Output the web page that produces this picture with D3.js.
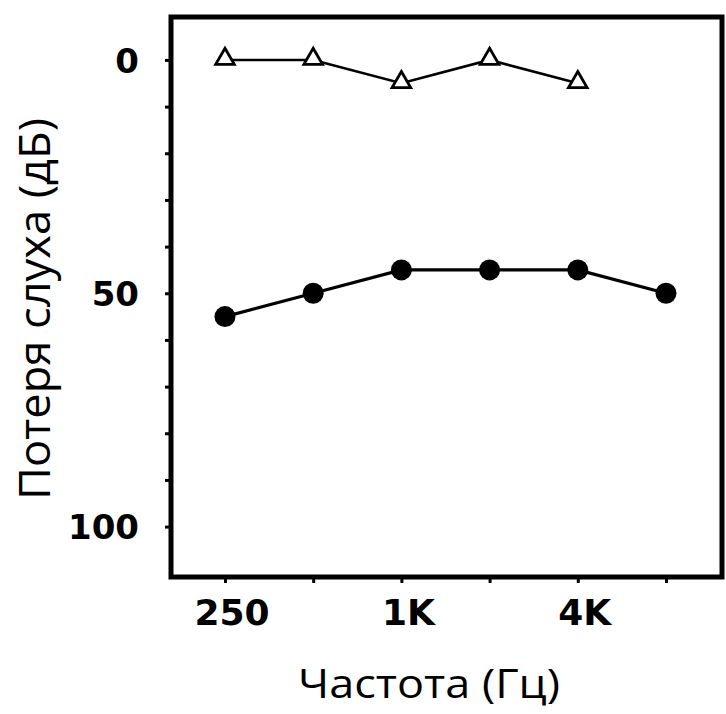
<!DOCTYPE html>
<html>
<head>
<meta charset="utf-8">
<script src="https://cdn.jsdelivr.net/npm/d3@7"></script>
<style>
  html, body { margin: 0; padding: 0; background: #fff; }
  svg { display: block; }
</style>
</head>
<body>
<div id="chart"></div>
<script>
// Audiogram: hearing loss (dB) by frequency (Hz)
const frequencies = [250, 500, 1000, 2000, 4000, 8000];
const tickLabels = ["250", "", "1K", "", "4K", ""];
const yTicks = [0, 10, 20, 30, 40, 50, 60, 70, 80, 90, 100];
const yTickLabels = { 0: "0", 50: "50", 100: "100" };

// Open triangles (250 Hz – 4 kHz)
const triFreqs = [250, 500, 1000, 2000, 4000];
const triValues = [0, 0, 5, 0, 5];

// Filled circles (250 Hz – 8 kHz)
const dotFreqs = [250, 500, 1000, 2000, 4000, 8000];
const dotValues = [55, 50, 45, 45, 45, 50];

const W = 726, H = 714;
const frame = { left: 171, top: 17, right: 722, bottom: 577 };

const svg = d3.select("#chart").append("svg")
  .attr("width", W).attr("height", H);

// log2 frequency axis with a little padding past 250 Hz and 8 kHz
const x = d3.scaleLog().base(2)
  .domain([250 * Math.pow(2, -0.612), 250 * Math.pow(2, 5.635)])
  .range([frame.left, frame.right]);

// hearing loss grows downward
const y = d3.scaleLinear()
  .domain([-9.2, 110.8])
  .range([frame.top, frame.bottom]);

const tickFont = "'DejaVu Sans', sans-serif";

// Left axis: ticks every 10 dB, labels at 0 / 50 / 100
const yAxis = d3.axisLeft(y)
  .tickValues(yTicks)
  .tickSize(6)
  .tickPadding(26)
  .tickFormat(d => yTickLabels[d] || "");
const gy = svg.append("g")
  .attr("transform", `translate(${frame.left},0)`)
  .call(yAxis);
gy.select(".domain").remove();
gy.selectAll(".tick line").attr("stroke", "#000").attr("stroke-width", 3);
gy.selectAll(".tick text")
  .attr("font-family", tickFont)
  .attr("font-weight", "bold")
  .attr("font-size", 34)
  .attr("fill", "#000")
  .attr("dy", "0.36em");

// Bottom axis: one tick per octave
const xAxis = d3.axisBottom(x)
  .tickValues(frequencies)
  .tickSize(6)
  .tickPadding(16)
  .tickFormat((d, i) => tickLabels[i]);
const gx = svg.append("g")
  .attr("transform", `translate(0,${frame.bottom})`)
  .call(xAxis);
gx.select(".domain").remove();
gx.selectAll(".tick line").attr("stroke", "#000").attr("stroke-width", 3);
gx.selectAll(".tick text")
  .attr("font-family", tickFont)
  .attr("font-weight", "bold")
  .attr("font-size", 36)
  .attr("fill", "#000")
  .attr("dx", "0.18em");

// Plot frame
svg.append("rect")
  .attr("x", frame.left).attr("y", frame.top)
  .attr("width", frame.right - frame.left)
  .attr("height", frame.bottom - frame.top)
  .attr("fill", "none")
  .attr("stroke", "#000")
  .attr("stroke-width", 5);

// Triangle series
const triData = triFreqs.map((f, i) => ({ f, v: triValues[i] }));
svg.append("path")
  .datum(triData)
  .attr("fill", "none")
  .attr("stroke", "#000")
  .attr("stroke-width", 2.6)
  .attr("d", d3.line().x(d => x(d.f)).y(d => y(d.v)));
svg.selectAll(".tri")
  .data(triData)
  .join("path")
  .attr("class", "tri")
  .attr("transform", d => `translate(${x(d.f)},${y(d.v) - 1})`)
  .attr("d", d3.symbol().type(d3.symbolTriangle).size(150))
  .attr("fill", "#fff")
  .attr("stroke", "#000")
  .attr("stroke-width", 2.8);

// Circle series
const dotData = dotFreqs.map((f, i) => ({ f, v: dotValues[i] }));
svg.append("path")
  .datum(dotData)
  .attr("fill", "none")
  .attr("stroke", "#000")
  .attr("stroke-width", 3.2)
  .attr("d", d3.line().x(d => x(d.f)).y(d => y(d.v)));
svg.selectAll(".dot")
  .data(dotData)
  .join("circle")
  .attr("class", "dot")
  .attr("cx", d => x(d.f))
  .attr("cy", d => y(d.v))
  .attr("r", 10.5)
  .attr("fill", "#000");

// Axis titles
const titleFont = "'Open Sans', sans-serif";
svg.append("text")
  .attr("transform", "translate(50,309) rotate(-90)")
  .attr("text-anchor", "middle")
  .attr("font-family", titleFont)
  .attr("font-size", 44)
  .attr("fill", "#000")
  .attr("textLength", 382)
  .attr("lengthAdjust", "spacingAndGlyphs")
  .text("Потеря слуха (дБ)");

svg.append("text")
  .attr("x", 429)
  .attr("y", 698)
  .attr("text-anchor", "middle")
  .attr("font-family", titleFont)
  .attr("font-size", 41)
  .attr("fill", "#000")
  .attr("textLength", 262)
  .attr("lengthAdjust", "spacingAndGlyphs")
  .text("Частота (Гц)");
</script>
</body>
</html>
